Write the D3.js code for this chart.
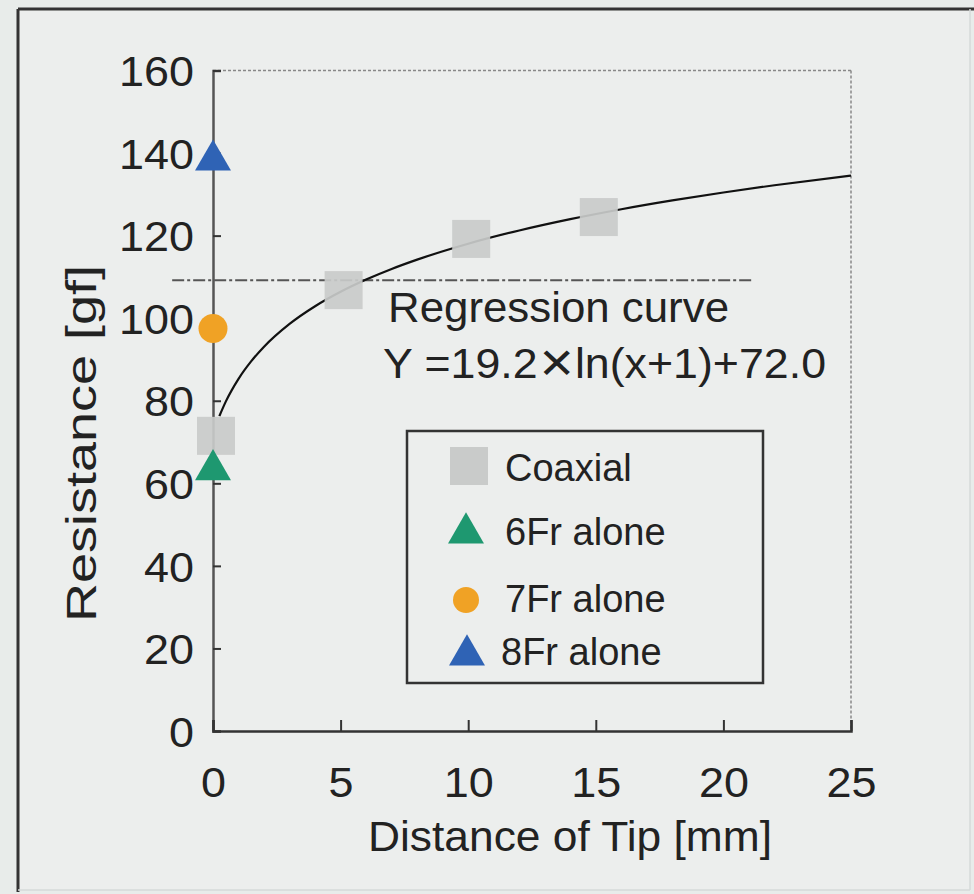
<!DOCTYPE html>
<html><head><meta charset="utf-8">
<script src="https://cdn.jsdelivr.net/npm/d3@7"></script>
<style>
html,body{margin:0;padding:0;background:#e8ecea;}
svg{display:block;font-family:"Liberation Sans",Arial,Helvetica,sans-serif;}
</style></head>
<body>
<svg id="c" width="974" height="894"></svg>
<script>
// ---- data ----
const coaxialX = [0, 5, 10, 15];
const coaxialY = [71.5, 106.8, 119.2, 124.5];
const fr6 = [{x: 0, y: 64}];
const fr7 = [{x: 0, y: 97.5}];
const fr8 = [{x: 0, y: 139}];
const xTicks = [0, 5, 10, 15, 20, 25];
const yTicks = [0, 20, 40, 60, 80, 100, 120, 140, 160];
const regA = 19.2, regB = 72.0;          // Y = 19.2 ln(x+1) + 72.0
const regX = [0.25, 0.5, 1, 1.5, 2, 3, 4, 5, 6, 7, 8, 10, 12, 14, 16, 18, 20, 22, 25];
const refLineY = 109.2, refLineX = [-1.6, 21.1];
const legendLabels = ["Coaxial", "6Fr alone", "7Fr alone", "8Fr alone"];

const colors = {coax: "#c9cbca", g6: "#1e9870", o7: "#f0a225", b8: "#2f63b5"};

const svg = d3.select("#c");
// page frame
svg.append("rect").attr("x", 18).attr("y", 9).attr("width", 952).attr("height", 881)
  .attr("fill", "#eceeed").attr("stroke", "none");
svg.append("line").attr("x1", 18).attr("x2", 974).attr("y1", 9).attr("y2", 9).attr("stroke", "#333").attr("stroke-width", 3);
svg.append("line").attr("x1", 18).attr("x2", 18).attr("y1", 9).attr("y2", 892).attr("stroke", "#333").attr("stroke-width", 3);
svg.append("line").attr("x1", 18).attr("x2", 970).attr("y1", 890).attr("y2", 890).attr("stroke", "#d6dad8").attr("stroke-width", 1.5);
svg.append("line").attr("x1", 970).attr("x2", 970).attr("y1", 9).attr("y2", 890).attr("stroke", "#d6dad8").attr("stroke-width", 1.5);

const x = d3.scaleLinear().domain([0, 25]).range([213, 851]);
const y = d3.scaleLinear().domain([0, 160]).range([731, 70.5]);

// top & right border (dotted gray)
svg.append("line").attr("x1", x(0)).attr("x2", x(25)).attr("y1", y(160)).attr("y2", y(160))
  .attr("stroke", "#888").attr("stroke-width", 1.5).attr("stroke-dasharray", "3,2");
svg.append("line").attr("x1", x(25)).attr("x2", x(25)).attr("y1", y(160)).attr("y2", y(0))
  .attr("stroke", "#888").attr("stroke-width", 1.5).attr("stroke-dasharray", "3,2");

// axes
const fs = 42;
const yAxis = d3.axisRight(y).tickValues(yTicks).tickSize(8).tickFormat(d3.format("d"));
const gy = svg.append("g").attr("transform", `translate(${x(0)},0)`).call(yAxis);
gy.select(".domain").attr("stroke", "#555").attr("stroke-width", 2.5);
gy.selectAll(".tick line").attr("stroke", "#333").attr("stroke-width", 2);
gy.selectAll(".tick text").attr("text-anchor", "end").attr("dy", "0.36em")
  .attr("font-size", fs).attr("fill", "#222").attr("font-family", "Liberation Sans, Arial, sans-serif")
  .attr("transform", "scale(1.07,1)").attr("x", -19 / 1.07);

const xAxis = d3.axisTop(x).tickValues(xTicks).tickSize(11).tickFormat(d3.format("d"));
const gx = svg.append("g").attr("transform", `translate(0,${y(0)})`).call(xAxis);
gx.select(".domain").attr("stroke", "#333").attr("stroke-width", 2.5);
gx.selectAll(".tick line").attr("stroke", "#333").attr("stroke-width", 2);
gx.selectAll(".tick text").attr("y", 66).attr("dy", 0).attr("font-size", fs).attr("fill", "#222")
  .attr("font-family", "Liberation Sans, Arial, sans-serif").attr("transform", "scale(1.07,1)");

// axis titles
svg.append("text").attr("x", 368).attr("y", 851)
  .attr("font-size", 42).attr("fill", "#222")
  .attr("textLength", 404).attr("lengthAdjust", "spacingAndGlyphs").text("Distance of Tip [mm]");
svg.append("text").attr("transform", "translate(96,622) rotate(-90)")
  .attr("font-size", 42).attr("fill", "#222")
  .attr("textLength", 357).attr("lengthAdjust", "spacingAndGlyphs").text("Resistance [gf]");

// reference dash-dot line
svg.append("line").attr("x1", x(refLineX[0])).attr("x2", x(refLineX[1]))
  .attr("y1", y(refLineY)).attr("y2", y(refLineY))
  .attr("stroke", "#555").attr("stroke-width", 2).attr("stroke-dasharray", "12,3,3,3");

// regression curve
const line = d3.line().x(d => x(d)).y(d => y(regA * Math.log(d + 1) + regB)).curve(d3.curveMonotoneX);
svg.append("path").datum(regX).attr("d", line).attr("fill", "none").attr("stroke", "#111").attr("stroke-width", 2.2);

// markers
const sq = 38;
svg.selectAll(".coax").data(coaxialX).enter().append("rect")
  .attr("x", d => x(d) - sq / 2 + 3).attr("y", (d, i) => y(coaxialY[i]) - sq / 2)
  .attr("width", sq).attr("height", sq).attr("fill", colors.coax).attr("opacity", 0.92);

const tri = d3.symbol().type(d3.symbolTriangle).size(560);
svg.selectAll(".g6").data(fr6).enter().append("path").attr("d", tri)
  .attr("transform", d => `translate(${x(d.x)},${y(d.y) + 3})`).attr("fill", colors.g6);
svg.selectAll(".o7").data(fr7).enter().append("circle").attr("r", 14.5)
  .attr("cx", d => x(d.x)).attr("cy", d => y(d.y)).attr("fill", colors.o7);
svg.selectAll(".b8").data(fr8).enter().append("path").attr("d", tri)
  .attr("transform", d => `translate(${x(d.x)},${y(d.y) + 3})`).attr("fill", colors.b8);

// annotation
svg.append("text").attr("x", 388).attr("y", 322).attr("font-size", 42).attr("fill", "#222")
  .attr("textLength", 341).attr("lengthAdjust", "spacingAndGlyphs").text("Regression curve");
svg.append("text").attr("x", 383).attr("y", 378).attr("font-size", 42).attr("fill", "#222")
  .attr("textLength", 443).attr("lengthAdjust", "spacingAndGlyphs").text("Y =19.2\u2715ln(x+1)+72.0");

// legend
const lg = svg.append("g");
lg.append("rect").attr("x", 407).attr("y", 431).attr("width", 356).attr("height", 252)
  .attr("fill", "none").attr("stroke", "#333").attr("stroke-width", 2.5);
const ly = [466, 530, 600, 652];
const lty = [481, 545, 612, 665];
lg.append("rect").attr("x", 469 - 19).attr("y", ly[0] - 19).attr("width", 38).attr("height", 38).attr("fill", colors.coax);
lg.append("path").attr("d", tri).attr("transform", `translate(466,${ly[1] + 3})`).attr("fill", colors.g6);
lg.append("circle").attr("cx", 466).attr("cy", ly[2]).attr("r", 13).attr("fill", colors.o7);
lg.append("path").attr("d", tri).attr("transform", `translate(467,${ly[3] + 3})`).attr("fill", colors.b8);
lg.selectAll(".lt").data(legendLabels).enter().append("text")
  .attr("x", (d, i) => i === 3 ? 501 : 505).attr("y", (d, i) => lty[i])
  .attr("font-size", 38).attr("fill", "#222").text(d => d);
</script>
</body></html>
